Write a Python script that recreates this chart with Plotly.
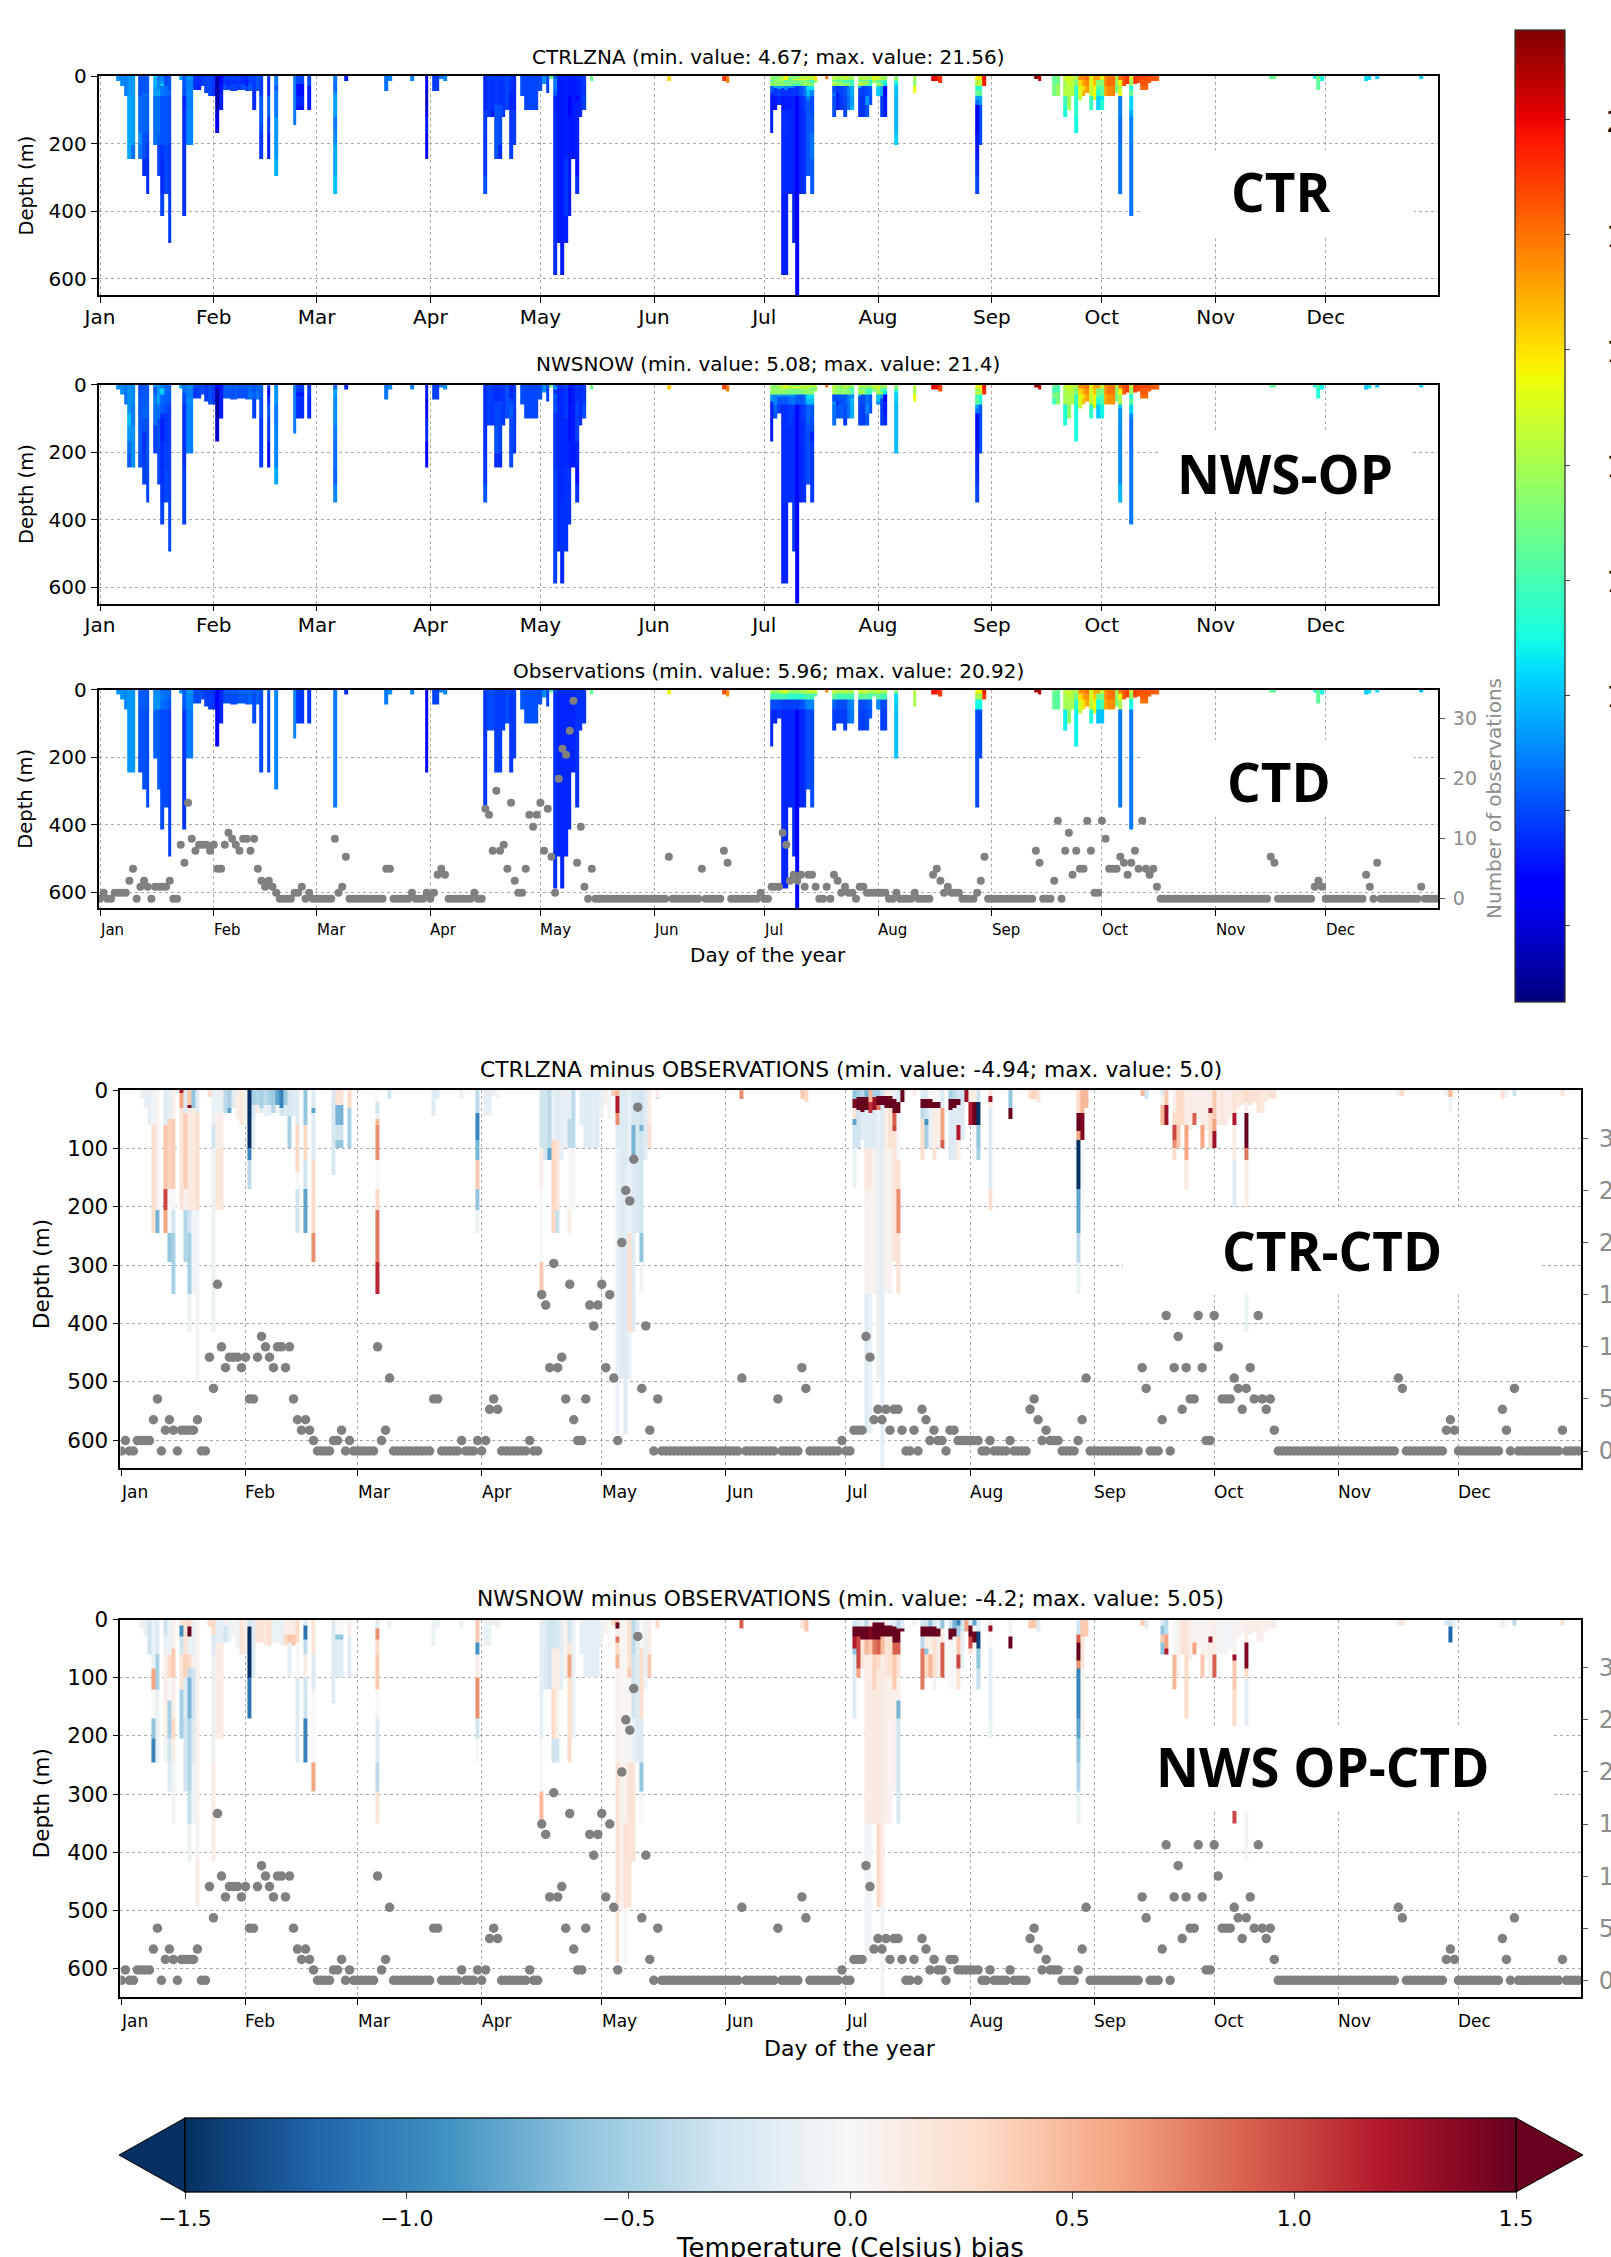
import numpy as np
import plotly.graph_objects as go

W, H = 1611, 2257
MONTHS = ["Jan", "Feb", "Mar", "Apr", "May", "Jun", "Jul", "Aug", "Sep", "Oct", "Nov", "Dec"]
MONTH_DAYS = [0, 31, 59, 90, 120, 151, 181, 212, 243, 273, 304, 334]
DEPTH_EDGES = [0, 5, 10, 12, 15, 17, 20, 25, 30, 32, 35, 37, 40, 45, 50, 60, 70, 85, 100, 120, 140, 145,
               170, 205, 245, 295, 350, 415, 495, 590, 650]

# number of observations for each day of the year
obs_count = [
    0,1,0,0,1,1,1,1,3,5, 0,2,3,2,0,2,2,2,2,3, 0,0,9,6,16,10,8,9,9,9, 8,9,5,5,9,11,10,9,8,10,
    10,8,10,5,3,2,3,2,1,0, 0,0,0,1,1,2,0,1,0,0, 0,0,0,0,10,1,2,7,0,0, 0,0,0,0,0,0,0,0,5,5,
    0,0,0,0,0,1,0,0,0,1, 0,1,4,5,4,0,0,0,0,0, 0,0,1,0,0,15,14,8,18,8, 9,5,16,3,1,1,5,14,12,14,
    16,8,15,7,1,20,25,24,28,33, 6,12,2,0,5,0,0,0,0,0, 0,0,0,0,0,0,0,0,0,0, 0,0,0,0,0,7,0,0,0,0,
    0,0,0,0,5,0,0,0,0,0, 8,6,0,0,0,0,0,0,0,0, 1,0,0,2,2,2,11,9,3,4, 3,4,2,4,4,2,0,0,2,0,
    4,3,1,2,1,1,0,2,2,1, 1,1,1,1,1,0,0,1,0,0, 0,0,1,0,0,0,0,4,5,3, 1,2,1,1,1,0,0,0,0,1,
    3,7,0,0,0,0,0,0,0,0, 0,0,0,0,0,8,6,0,0,0, 3,13,0,8,11,4,8,5,5,13, 8,1,1,13,10,5,5,5,7,6,
    4,6,8,5,13,5,4,5,2,0, 0,0,0,0,0,0,0,0,0,0, 0,0,0,0,0,0,0,0,0,0, 0,0,0,0,0,0,0,0,0,7,
    6,0,0,0,0,0,0,0,0,0, 0,2,3,2,0,0,0,0,0,0, 0,0,0,0,0,4,2,0,6,0, 0,0,0,0,0,0,0,0,0,0,
    2,0,0,0,0,
]

# observed profiles: day, deepest depth, temperature in 0-12, 12-30, 30-60 and below 60 m
col_days = [5,6,7,8,9,11,12,13,15,16,17,18,19,22,23,24,25,26,27,28,29,30,31,32,33,34,35,36,37,38,39,40,41,42,43,44,46,48,
            53,54,55,57,64,67,78,79,85,89,91,92,93,94,
            105,106,107,108,109,110,111,112,113,115,116,117,118,119,120,121,122,123,124,125,126,127,128,129,130,131,132,134,
            155,170,171,
            183,184,185,186,187,188,189,190,191,192,193,194,195,198,
            200,201,202,203,204,205,207,208,209,210,211,212,213,214,217,222,227,228,229,239,240,241,255,256,260,261,
            263,264,265,266,267,268,269,270,271,272,273,274,275,276,277,278,279,280,281,282,283,284,285,286,287,288,
            319,320,331,332,333,345,346,348,360]
col_bottom = [15,30,60,245,245,245,295,350,205,295,415,350,495,12,415,205,205,40,40,30,50,60,60,170,100,40,40,45,45,40,40,45,45,100,45,245,245,295,
              145,100,100,100,350,15,45,15,15,245,45,45,10,15,
              350,120,120,245,245,120,100,245,205,60,100,100,100,100,45,25,50,10,590,495,590,495,415,245,350,120,100,15,
              15,15,20,
              170,100,85,590,590,350,495,650,350,350,295,350,20,10,
              120,100,100,120,100,100,120,120,120,85,20,60,120,120,205,50,15,15,20,350,205,30,10,15,60,60,
              120,100,60,170,70,60,50,100,70,100,100,60,60,60,50,350,30,25,415,25,20,40,40,20,15,15,
              10,10,10,40,15,15,12,10,10]
obs_t0 = [8.8,8.8,8.6,8.9,8.9,7.9,7.9,7.8,8.6,8.6,8.2,8.2,8.0,8.9,8.0,8.9,8.9,7.6,7.6,7.6,7.4,7.4,7.2,6.8,7.0,7.8,7.8,7.8,7.8,8.0,8.0,8.0,8.0,7.8,8.0,7.8,7.8,8.6,
          8.6,7.4,7.4,7.3,8.4,7.2,8.4,8.8,9.0,6.8,7.5,7.5,9.0,9.0,
          7.4,7.7,7.7,7.5,7.5,7.5,7.7,7.4,7.5,7.8,7.7,7.7,7.7,7.7,7.7,8.7,7.6,12.5,7.4,7.2,7.2,7.2,7.2,7.2,7.3,7.3,7.3,12.5,
          15.5,18.7,17.5,
          14,13.5,14,15,15,13.5,13.5,13.5,14,14,14.5,14.5,14.5,17.8,
          14.5,14,14,14.5,14,14,14.5,14.5,14.5,14,14,14.5,14,14,13,14.5,19.8,19.5,19,15.5,15.5,19.5,20.9,20.9,12.8,12.6,
          14.5,14.8,14.2,14,17.5,17.5,18,15,17,17,14.5,17.5,18,18,14,17.8,18.5,19,14.5,19,18.6,18.6,18.6,18.4,18.4,18.2,
          12.5,12.5,11,12.5,11,10.2,10.5,10.5,10]
obs_t1 = [8.8,8.8,8.6,8.9,8.9,7.9,7.9,7.8,8.8,8.8,8.4,8.2,8.0,8.9,8.0,9.0,9.0,7.6,7.6,7.6,7.4,7.4,7.2,6.8,7.0,7.6,7.6,7.6,7.6,7.8,7.8,7.8,8.0,7.6,8.0,7.6,7.6,8.6,
          8.6,7.3,7.3,7.3,8.4,7.2,8.4,8.8,9.0,6.8,7.5,7.5,9.0,9.0,
          7.3,7.6,7.6,7.4,7.4,7.4,7.6,7.3,7.4,7.8,7.7,7.7,7.7,7.7,7.7,8.7,7.5,12.5,7.2,7.0,7.0,7.0,7.0,7.0,7.2,7.2,7.2,12.5,
          15.5,18.7,17.5,
          12,12,12,12,12,11.5,11.5,11.5,11.5,12,12,12,12.5,17.8,
          12.5,12,12,12,12,12,12.5,12.5,12.5,12,12.5,12.5,12,12,10.5,14,19.8,19.5,19,14,14,19,20.9,20.9,12.5,12.4,
          14,14.5,14,13,16,17,17.5,15,16.5,13,13,17.5,18,18,13.5,15.5,18.5,19,13.5,18.8,18.6,18.4,18.4,18.4,18.4,18.2,
          12.5,12.5,11,12.5,11,10.2,10.5,10.5,10]
obs_t2 = [8.8,8.8,8.6,8.9,8.9,7.9,7.9,7.8,8.8,8.8,8.2,8.0,7.8,8.9,7.8,8.6,8.6,7.6,7.6,7.6,7.4,7.4,7.2,6.8,7.0,7.6,7.6,7.6,7.6,7.8,7.8,7.8,8.0,7.6,8.0,7.6,7.6,8.6,
          8.6,7.3,7.3,7.3,8.4,7.2,8.4,8.8,9.0,6.8,7.5,7.5,9.0,9.0,
          7.3,7.6,7.6,7.4,7.4,7.4,7.6,7.3,7.4,7.8,7.7,7.7,7.7,7.7,7.7,8.7,7.5,12.5,7.2,7.0,7.0,7.0,7.0,7.0,7.2,7.2,7.2,12.5,
          15.5,18.7,17.5,
          7.6,7.6,7.6,7.4,7.4,7.4,7.4,7.4,7.6,8,8.6,8.6,12.5,17.8,
          8,7.6,7.6,7.6,8.4,8.6,7.6,7.6,7.8,8,12.5,9,7.6,7.6,10.2,14,19.8,19.5,19,11,11,19,20.9,20.9,12.5,12.4,
          14,14,14,11.5,15,16,17,14.5,15.5,11,12,17,17.5,17.5,13,14,18.5,19,11,18.8,18.6,18,18,18.4,18.4,18.2,
          12.5,12.5,11,12.5,11,10.2,10.5,10.5,10]
obs_t3 = [8.8,8.8,8.6,8.9,8.9,7.7,7.7,7.6,8.0,7.9,7.6,7.6,7.4,8.9,7.3,8.4,8.4,7.6,7.6,7.6,7.4,7.4,7.2,6.8,7.0,7.6,7.6,7.6,7.6,7.8,7.8,7.8,8.0,7.6,8.0,7.6,7.6,8.6,
          8.6,7.3,7.3,7.3,8.4,7.2,8.4,8.8,9.0,6.8,7.5,7.5,9.0,9.0,
          7.3,7.6,7.6,7.4,7.4,7.4,7.6,7.3,7.4,7.8,7.7,7.7,7.7,7.7,7.7,8.7,7.5,12.5,7.2,7.0,7.0,7.0,7.0,7.0,7.2,7.2,7.2,12.5,
          15.5,18.7,17.5,
          7,7,7.2,7,7,7,7,6.8,7,7.2,7.6,7.6,12.5,17.8,
          7.4,7.4,7.4,7.4,8.2,8.4,7.4,7.4,7.6,7.8,12.5,9,7.4,7.4,10,14,19.8,19.5,19,7.6,7.6,19,20.9,20.9,12.5,12.4,
          10.8,13.5,14,10.8,14.5,16,17,11.2,15,10,10,17,17.5,17.5,13,8.4,18.5,19,8.4,18.8,18.6,18,18,18.4,18.4,18.2,
          12.5,12.5,11,12.5,11,10.2,10.5,10.5,10]

# bias runs for each day: (down to this depth, bias)
ctr_bias = {
    5:[(15,-.1)],6:[(30,-.12)],7:[(60,-.15)],8:[(60,-.05),(245,.25)],9:[(60,.05),(205,.1),(245,-.7)],
    11:[(60,-.2),(170,.42),(205,1.0),(245,.6)],12:[(50,-.15),(170,.35),(245,0),(295,-.6)],
    13:[(50,.1),(170,.38),(205,0),(245,-.3),(350,-.5)],15:[(5,1.2),(30,.6),(205,.2)],
    16:[(40,-.2),(170,.38),(205,.05),(295,-.45)],17:[(25,.4),(30,1.4),(205,.15),(245,-.3),(350,-.5),(415,-.1)],
    18:[(30,-.6),(205,.15),(415,-.05)],19:[(40,-.2),(205,.25),(495,-.05)],22:[(12,.3)],
    23:[(60,-.1),(100,-.3),(245,-.1),(415,-.1)],24:[(40,-.1),(100,.1),(205,.18)],25:[(40,-.1),(100,.1),(205,.18)],
    26:[(40,-.4)],27:[(30,-.5),(40,-.8)],28:[(30,-.2)],29:[(50,.1)],30:[(60,.15)],31:[(60,.05)],
    32:[(100,-1.5),(120,-1.0),(170,-.4)],33:[(25,-.5),(50,-.25),(100,-.1)],34:[(25,-.45),(40,.1)],35:[(30,-.5),(40,-.2)],
    36:[(25,-.4),(45,-.1)],37:[(25,-.5),(45,-.15)],38:[(25,-.55),(40,-.45)],39:[(25,-.8)],40:[(30,-1.0),(45,-.3)],
    41:[(25,-.55),(45,-.2)],42:[(45,-.25),(100,-.5)],43:[(45,-.2)],44:[(60,-.2),(140,.3),(170,0),(245,-.3)],
    46:[(60,-.6),(120,.3),(170,-.3),(245,-.8)],48:[(30,-.2),(40,-.8),(120,-.2),(245,.3),(295,.7)],
    53:[(145,-.25)],54:[(25,.2),(60,-.7),(85,-.3),(100,-.6)],55:[(25,.2),(60,-.7),(85,-.3),(100,-.6)],57:[(30,.3),(100,-.5)],
    64:[(20,0),(40,-.3),(50,-.1),(60,.5),(120,.7),(170,0),(205,.3),(295,.8),(350,1.15)],
    67:[(15,-.3)],78:[(45,-.2)],79:[(15,-.2)],85:[(15,-.1)],89:[(40,-.4),(85,-1.0),(120,-.7),(170,.4),(205,-.6),(245,-.1)],
    91:[(45,-.15)],92:[(45,-.15)],94:[(15,.05)],105:[(100,-.3),(170,.1),(295,0),(350,.4)],106:[(120,-.3)],
    107:[(100,-.4),(120,-.8)],108:[(85,-.1),(245,.32)],109:[(85,-.2),(205,.2),(245,-.35)],110:[(120,-.15)],
    111:[(100,-.1)],112:[(50,-.15),(100,-.4),(205,0),(245,.1)],113:[(100,-.4),(205,-.05)],
    115:[(60,-.15)],116:[(100,-.2)],117:[(100,-.2)],118:[(100,-.15)],119:[(100,-.2)],120:[(45,-.1)],121:[(25,.1)],122:[(50,-.05)],
    123:[(10,.4)],124:[(10,.5),(40,1.2),(60,.7),(100,-.2),(590,-.1)],125:[(495,-.2)],126:[(590,-.2)],
    127:[(245,-.1),(415,.25),(495,-.1)],128:[(60,-.25),(120,-.7),(415,-.2)],129:[(245,-.25)],
    130:[(60,-.3),(70,-.7),(245,-.3),(295,-.6),(350,-.05)],131:[(120,-.2)],132:[(60,.1),(100,.25)],134:[(12,.1),(15,-.3)],
    155:[(15,.7)],170:[(15,.4)],171:[(20,.3)],
    183:[(15,-.6),(30,1.4),(50,.2),(60,-.8),(100,-.3),(170,-.1)],184:[(12,-.5),(35,1.5),(100,-.3)],185:[(12,-.4),(37,1.5),(85,-.2)],
    186:[(12,-.7),(35,1.5),(100,-.2),(170,.15),(295,.08),(350,.05),(590,-.2)],187:[(20,.5),(40,1.1),(100,-.2),(170,.15),(350,.05),(590,-.1)],
    188:[(12,-.5),(35,1.3),(100,-.2),(350,.05)],189:[(10,-.5),(25,1.5),(35,.8),(100,-.1),(495,-.1)],
    190:[(10,-.3),(25,1.5),(100,-.2),(650,-.15)],191:[(10,.1),(30,1.5),(100,.1),(350,.05)],192:[(10,.1),(30,1.5),(100,.25),(350,.05)],
    193:[(15,-.1),(40,1.5),(60,.9),(70,1.0),(120,.2),(295,.2)],194:[(20,-.2),(40,1.5),(120,0),(170,.25),(245,.7),(350,.22)],195:[(20,1.5)],
    198:[(10,.1)],200:[(15,-.2),(30,1.5),(50,-.4),(120,.25)],201:[(15,-.2),(30,1.5),(50,-.3),(60,-.9),(100,-.5)],
    202:[(15,0),(30,1.5),(100,-.1)],203:[(20,0),(30,1.5),(100,.1),(120,.2)],204:[(20,0),(30,1.5),(100,.1)],205:[(30,-.2),(85,.6),(100,.9)],
    207:[(15,-.5),(35,1.5),(120,-.2)],208:[(15,-.4),(30,1.5),(120,-.2)],209:[(15,-.3),(25,1.5),(60,-.2),(85,1.2),(120,.1)],
    210:[(20,-.3),(85,-.2)],211:[(20,1.3)],212:[(20,.1),(60,1.2)],213:[(20,.1),(60,1.5),(120,0)],214:[(20,-.3),(60,-1.5),(100,-.6),(120,-.5)],
    217:[(10,.2),(20,1.3),(30,.1),(170,-.2),(205,.25)],222:[(30,-.6),(50,1.5)],227:[(15,.3)],228:[(15,.35)],229:[(20,.2)],
    239:[(40,.3),(70,1.5),(85,.6),(170,-1.5),(245,-.8),(295,-.4),(350,-.1)],240:[(40,.5),(85,1.4),(205,0)],241:[(30,.5)],
    255:[(10,.5)],256:[(15,-.3)],260:[(10,-.2),(25,.05),(60,.5)],261:[(25,.4),(60,1.3)],
    263:[(40,.1),(60,.3),(85,1.0),(100,.7),(120,.3)],264:[(60,.3),(100,.4)],265:[(60,.3)],266:[(60,.1),(120,.6),(170,.15)],
    267:[(70,.1)],268:[(40,.1),(60,.9)],269:[(50,.1)],270:[(60,.1),(100,.6)],271:[(70,.1)],272:[(30,.1),(40,1.3),(100,.3)],
    273:[(50,.4),(70,.6),(100,1.3)],274:[(60,.1)],275:[(60,.15)],276:[(60,.1)],277:[(50,.1)],
    278:[(40,.2),(60,1.2),(120,.1),(205,-.2),(350,-.1)],279:[(30,.15)],280:[(25,.2)],
    281:[(20,.3),(40,.1),(100,1.5),(120,.8),(205,.1),(415,-.1)],282:[(25,.2)],283:[(20,.2)],284:[(40,.2)],285:[(40,.15)],286:[(20,.15)],287:[(15,.2)],288:[(15,.2)],
    319:[(10,-.1)],320:[(10,.3)],331:[(10,-.1)],332:[(12,.5),(40,-.05)],333:[(15,0)],345:[(15,.2)],346:[(12,-.1)],348:[(10,-.3)],360:[(10,.2)],
}
nws_bias = {
    5:[(15,-.1)],6:[(30,-.1)],7:[(60,-.3)],8:[(85,-.1),(120,.6),(170,0),(205,-.6),(245,-1.0)],9:[(60,-.2),(120,-.5),(245,-.1)],
    11:[(30,-.3),(60,-.1),(205,.1),(245,-.05)],12:[(60,-.1),(100,.3),(140,0),(205,-.5),(245,-.3),(295,-.2)],
    13:[(50,.1),(100,.4),(170,.1),(205,.3),(245,.1),(350,-.05)],15:[(10,.2),(30,-.9),(60,-.3),(120,.2),(205,-.5)],
    16:[(60,.2),(100,.35),(170,-.2),(295,-.3)],17:[(12,.3),(30,1.5),(60,-.1),(85,.3),(100,-.4),(170,-.7),(295,-.45),(350,-.35),(415,-.1)],
    18:[(60,-.1),(85,.05),(170,-.3),(245,-.2),(350,-.05)],19:[(60,.05),(415,.05),(495,.12)],22:[(12,.3)],
    23:[(25,.3),(60,-.2),(245,-.1),(415,.12)],24:[(40,-.15),(205,.12)],25:[(40,-.15),(205,.12)],26:[(10,.1),(40,-.3)],
    27:[(40,-.1)],28:[(30,.05)],29:[(50,-.05)],30:[(60,.2)],31:[(60,.1)],32:[(12,-.3),(100,-1.5),(170,-1.1)],33:[(100,-.2)],
    34:[(40,.2)],35:[(40,.2)],36:[(45,.15)],37:[(45,.25)],38:[(40,-.1)],39:[(40,-.1)],40:[(45,-.1)],41:[(25,.1),(45,.3)],42:[(25,.1),(40,.45),(100,-.15)],43:[(25,.1),(45,.4)],
    44:[(40,.3),(100,0),(245,-.2)],46:[(10,-.2),(35,-1.1),(60,-.4),(100,.1),(170,-.3),(245,-1.0)],48:[(60,.2),(120,-.2),(245,0),(295,.6)],
    53:[(145,-.2)],54:[(25,0),(35,-.6),(100,-.2)],55:[(25,0),(35,-.6),(100,-.2)],57:[(30,.1),(100,-.2)],
    64:[(15,-.2),(35,.7),(60,.3),(120,.4),(170,0),(245,-.2),(295,-.4),(350,.2)],67:[(15,-.1)],78:[(45,-.1)],79:[(15,-.1)],85:[(15,-.1)],
    89:[(40,.4),(60,-.9),(100,.1),(170,.7),(205,-.3),(245,0)],91:[(45,-.1)],92:[(45,-.1)],94:[(15,.1)],
    105:[(205,-.15),(295,0),(350,.5)],106:[(120,-.2)],107:[(120,-.3)],108:[(50,-.3),(120,.12),(205,.3),(245,-.3)],
    109:[(50,-.25),(205,.1),(245,-.3)],110:[(120,-.15)],111:[(100,.05)],112:[(40,-.3),(60,.2),(100,.6),(205,.25),(245,.3)],113:[(205,-.1)],
    115:[(60,-.15)],116:[(100,-.15)],117:[(100,-.15)],118:[(100,-.15)],119:[(100,-.15)],120:[(45,-.1)],121:[(25,.05)],122:[(50,0)],123:[(10,.3)],
    124:[(5,.4),(15,1.5),(30,.1),(40,.8),(60,.3),(85,.5),(245,.05),(590,.22)],125:[(245,.03),(495,.06)],126:[(245,.03),(350,.06),(495,.22),(590,.03)],
    127:[(85,.25),(100,.4),(245,.03),(495,.2)],128:[(60,-.4),(170,-.3),(245,-.1),(415,.2)],129:[(245,-.2)],
    130:[(50,0),(170,.25),(245,-.2),(295,-.6),(350,-.02)],131:[(100,-.1),(120,-.05)],132:[(60,.1),(100,.4)],134:[(15,.3)],
    155:[(15,.9)],170:[(15,.2)],171:[(20,.4)],
    183:[(12,-.3),(30,1.5),(50,1.2),(60,-.6),(170,-.2)],184:[(12,-.2),(30,1.5),(85,1.0),(100,.6)],185:[(12,-.1),(35,1.5),(85,.2)],
    186:[(12,-.4),(35,1.5),(60,.5),(295,.12),(350,.12),(590,-.05)],187:[(12,.1),(35,1.4),(60,.4),(350,.12),(590,-.05)],
    188:[(5,-.2),(35,1.5),(60,.8),(120,.35),(350,.15)],189:[(5,-.2),(35,1.5),(60,.9),(85,.3),(350,.15),(495,.28)],
    190:[(5,-.2),(30,1.5),(60,.5),(495,.12),(650,-.05)],191:[(10,.1),(30,1.5),(100,.2),(350,.06)],192:[(10,-.1),(30,1.5),(100,.25),(170,.08),(350,.05)],
    193:[(12,-.2),(40,1.5),(60,.9),(120,.4),(295,.08)],194:[(15,-.4),(40,1.5),(60,.9),(100,.2),(140,.05),(170,-.7),(295,-.3),(350,-.25)],195:[(15,-.2),(20,1.5)],
    198:[(10,.1)],200:[(12,-.3),(30,1.5),(50,-.4),(120,.8)],201:[(12,-.3),(30,1.5),(50,.1),(60,-.6),(120,.3)],
    202:[(12,-.6),(30,1.5),(60,.1),(120,.5)],203:[(12,-.2),(30,1.5),(100,.25)],204:[(15,-.1),(30,1.5),(100,.1)],205:[(15,-.6),(40,.1),(100,.9)],
    207:[(15,-.3),(35,1.5),(120,0)],208:[(15,-.7),(30,1.5),(120,0)],209:[(10,-1.0),(30,-.5),(60,.4),(85,1.0),(120,.2)],
    210:[(20,-.3),(85,-.1)],211:[(20,.6)],212:[(10,-.2),(30,1.5),(50,1.0),(60,.2)],213:[(10,-.8),(20,0),(40,1.5),(120,0)],
    214:[(20,-.2),(50,-1.4),(85,-.6),(120,-.35)],217:[(10,.1),(20,1.3),(50,0),(170,-.15),(205,-.1)],222:[(30,-.05),(50,1.5)],
    227:[(15,.4)],228:[(15,.4)],229:[(20,-.2)],239:[(25,-.3),(40,.9),(70,1.5),(85,.7),(170,-1.0),(205,-.8),(245,-.6),(295,-.45),(350,-.1)],
    240:[(30,.4),(85,.2),(205,.05)],241:[(30,.4)],255:[(10,.4)],256:[(15,-.2)],260:[(10,-.2),(25,-.6),(40,.4),(60,-.6)],261:[(25,-.4),(50,.6),(60,1.2)],
    263:[(60,0),(120,.5)],264:[(100,.05)],265:[(60,.2)],266:[(60,.2),(170,.3)],267:[(70,.1)],268:[(40,.05),(60,.6)],269:[(50,.05)],
    270:[(60,.05),(100,.4)],271:[(70,.05)],272:[(30,.05),(40,1.3),(100,.1)],273:[(60,.1),(100,.9)],274:[(60,-.05)],275:[(60,-.05)],276:[(60,-.05)],277:[(50,-.05)],
    278:[(60,.05),(70,1.3),(120,.4),(295,.3),(350,1.0)],279:[(30,.05)],280:[(25,.05)],281:[(40,.1),(85,1.4),(100,.3),(205,-.15),(415,-.05)],
    282:[(25,.1)],283:[(20,.1)],284:[(40,.1)],285:[(40,.05)],286:[(20,.1)],287:[(15,.1)],288:[(15,.1)],
    319:[(10,-.1)],320:[(10,.2)],331:[(10,-.3)],332:[(12,-.3),(40,-1.2)],333:[(15,-.1)],345:[(15,-.1)],346:[(12,0)],348:[(10,-.4)],360:[(10,.2)],
}

# titles and labels
panel_titles = ["CTRLZNA (min. value: 4.67; max. value: 21.56)", "NWSNOW (min. value: 5.08; max. value: 21.4)",
                "Observations (min. value: 5.96; max. value: 20.92)",
                "CTRLZNA minus OBSERVATIONS (min. value: -4.94; max. value: 5.0)",
                "NWSNOW minus OBSERVATIONS (min. value: -4.2; max. value: 5.05)"]
big_labels = ["CTR", "NWS-OP", "CTD", "CTR-CTD", "NWS OP-CTD"]
temp_ticks = [6, 8, 10, 12, 14, 16, 18, 20]
temp_labels = [10, 12, 14, 16, 18, 20]
bias_ticks = [-1.5, -1.0, -0.5, 0.0, 0.5, 1.0, 1.5]

JET = [[0, "rgb(0,0,127)"], [.11, "rgb(0,0,255)"], [.125, "rgb(0,0,255)"], [.34, "rgb(0,219,255)"], [.35, "rgb(0,229,247)"],
       [.375, "rgb(21,255,226)"], [.64, "rgb(238,255,8)"], [.65, "rgb(247,246,0)"], [.66, "rgb(255,236,0)"], [.89, "rgb(255,19,0)"],
       [.91, "rgb(232,0,0)"], [1, "rgb(127,0,0)"]]
RDBU = ["#053061", "#2166ac", "#4393c3", "#92c5de", "#d1e5f0", "#f7f7f7", "#fddbc7", "#f4a582", "#d6604d", "#b2182b", "#67001f"]
RDBU_SCALE = [[i / 10, c] for i, c in enumerate(RDBU)]


def px(x):
    return x / W


def py(y):
    return 1 - y / H


edges = np.array(DEPTH_EDGES, float)
nlev = len(edges) - 1


def run_value(runs, lower):
    for until, v in runs:
        if lower < until:
            return v
    return -0.05


def obs_grid():
    z = np.full((nlev, 365), np.nan)
    for d, b, a0, a1, a2, a3 in zip(col_days, col_bottom, obs_t0, obs_t1, obs_t2, obs_t3, strict=True):
        for k in range(nlev):
            if edges[k] >= b:
                break
            low = edges[k]
            v = a0 if low < 12 else a1 if low < 30 else a2 if low < 60 else a3
            z[k, d] = v + 0.4 if 6.9 < v < 9 else v   # colour reading correction for the blue range
    return z


def bias_grid(table):
    z = np.full((nlev, 365), np.nan)
    for d, b in zip(col_days, col_bottom, strict=True):
        for k in range(nlev):
            if edges[k] >= b:
                break
            z[k, d] = run_value(table.get(d, [(b, -.1)]), edges[k])
    return z


OBS = obs_grid()
BC = bias_grid(ctr_bias)
BN = bias_grid(nws_bias)
x_edges = np.arange(-0.5, 365)

# pixel frames: left, right, top, bottom, x px of Jan, px/day, px of 600 m
FR = [(98.5, 1438, 76, 295, 100, 3.67, 278.7),
      (98.5, 1438, 384.5, 603.5, 100, 3.67, 587.2),
      (98.5, 1438, 689.5, 908, 100, 3.67, 892),
      (120.4, 1581, 1090, 1468, 121.4, 4.003, 1440),
      (120.4, 1581, 1619.5, 1997, 121.4, 4.003, 1968.7)]
OBS_AX = {2: (898.7, 6.0), 3: (1451, 10.42), 4: (1980.3, 10.42)}
GRID = dict(showgrid=True, gridcolor="#a8a8a8", griddash="dot", gridwidth=1.3)
AX = dict(showline=True, linecolor="black", linewidth=1.6, mirror=True, ticks="outside", tickcolor="black", zeroline=False)

fig = go.Figure()
layout = {}
grids = [OBS + BC, OBS + BN, OBS, BC, BN]
annots, shapes = [], []
white_boxes = [(1143, 1414, 150, 237), (1160, 1410, 430, 512), (1143, 1414, 740, 817), (1123, 1542, 1207, 1295), (1095, 1554, 1726, 1811)]
label_pos = [(1280, 192), (1285, 473), (1279, 781), (1332, 1250), (1323, 1766)]
title_y = [57, 364, 671, 1070, 1598]

for i, (L, R, T, B, x0, sx, y600) in enumerate(FR):
    n = i + 1
    xa, ya = ("x", "y") if i == 0 else (f"x{n}", f"y{n}")
    xk, yk = f"xaxis{'' if i == 0 else n}", f"yaxis{'' if i == 0 else n}"
    upper = i < 3
    rng_x = [(L - x0) / sx, (R - x0) / sx]
    sy = (y600 - T) / 600
    fig.add_trace(go.Heatmap(x=x_edges, y=edges, z=grids[i], coloraxis="coloraxis" if upper else "coloraxis2",
                             xaxis=xa, yaxis=ya, hoverinfo="skip"))
    tick_sz = 20 if i < 2 else 15 if i == 2 else 17
    y_sz = 20 if upper else 21.5
    layout[xk] = dict(domain=[px(L), px(R)], anchor=ya, range=rng_x, tickvals=MONTH_DAYS, ticktext=MONTHS,
                      showticklabels=i < 2, tickfont=dict(size=tick_sz), ticklen=6, ticklabelstandoff=-3, **GRID, **AX)
    layout[yk] = dict(domain=[py(B), py(T)], anchor=xa, range=[(B - T) / sy, 0],
                      tickvals=[0, 200, 400, 600] if upper else [0, 100, 200, 300, 400, 500, 600],
                      tickfont=dict(size=y_sz), ticklen=6, **GRID, **AX)
    if i >= 2:
        o0, so = OBS_AX[i]
        n2 = n + 5
        layout[f"yaxis{n2}"] = dict(domain=[py(B), py(T)], anchor=xa, overlaying=ya, side="right",
                                    range=[(o0 - B) / so, (o0 - T) / so], showgrid=False, zeroline=False,
                                    tickvals=[0, 10, 20, 30] if i == 2 else [0, 5, 10, 15, 20, 25, 30],
                                    tickfont=dict(size=19 if i == 2 else 24, color="#8c8c8c"),
                                    ticks="outside", ticklen=6, tickcolor="#555555", ticklabelstandoff=4 if i == 2 else 6)
        fig.add_trace(go.Scatter(x=list(range(365)), y=obs_count, mode="markers", xaxis=xa, yaxis=f"y{n2}",
                                 marker=dict(color="#808080", size=8 if i == 2 else 9.5), hoverinfo="skip", showlegend=False))
        for m, d in zip(MONTHS, MONTH_DAYS):
            annots.append(dict(x=d, xref=xa, y=py(B + (22 if i == 2 else 24)), yref="paper", text=m, showarrow=False,
                               xanchor="left", yanchor="middle", xshift=-2, font=dict(size=tick_sz, color="black")))
    # panel title
    annots.append(dict(x=px((L + R) / 2), y=py(title_y[i]), xref="paper", yref="paper", text=panel_titles[i], showarrow=False,
                       font=dict(size=20 if upper else 21.8, color="black")))
    # axis title
    annots.append(dict(x=px(26 if upper else 41), y=py((T + B) / 2 if upper else (T + B) / 2 - 5), xref="paper", yref="paper", text="Depth (m)", textangle=-90,
                       showarrow=False, font=dict(size=19.5 if upper else 21.5, color="black")))
    # white box and big label over the panel
    a, b, c, d = white_boxes[i]
    shapes.append(dict(type="rect", xref="paper", yref="paper", x0=px(a), x1=px(b), y0=py(d), y1=py(c),
                       fillcolor="white", line_width=0, layer="above"))
    annots.append(dict(x=px(label_pos[i][0]), y=py(label_pos[i][1]), xref="paper", yref="paper", text=f"<b>{big_labels[i]}</b>",
                       showarrow=False, font=dict(family="Open Sans", size=53, color="black")))

annots += [
    dict(x=px(768), y=py(955), xref="paper", yref="paper", text="Day of the year", showarrow=False, font=dict(size=20, color="black")),
    dict(x=px(850), y=py(2048), xref="paper", yref="paper", text="Day of the year", showarrow=False, font=dict(size=22, color="black")),
    dict(x=px(1494), y=py(799), xref="paper", yref="paper", text="Number of observations", textangle=-90, showarrow=False,
         font=dict(size=20, color="#8c8c8c")),
    dict(x=px(850), y=py(2248), xref="paper", yref="paper", text="Temperature (Celsius) bias", showarrow=False, font=dict(size=26, color="black")),
]
# temperature colorbar labels run off the edge of the page
for v in temp_labels:
    annots.append(dict(x=px(1604), y=py(121 + (20 - v) * 57.5), xref="paper", yref="paper", text=str(v), showarrow=False,
                       xanchor="left", font=dict(size=31, color="black")))
for a_ in annots:
    a_.setdefault("xanchor", "center")
    a_.setdefault("yanchor", "middle")

# colorbar end arrows
shapes.append(dict(type="path", xref="paper", yref="paper", fillcolor=RDBU[0], line=dict(color="black", width=1),
                   path=f"M {px(185)} {py(2118)} L {px(119)} {py(2155)} L {px(185)} {py(2192)} Z"))
shapes.append(dict(type="path", xref="paper", yref="paper", fillcolor=RDBU[-1], line=dict(color="black", width=1),
                   path=f"M {px(1516)} {py(2118)} L {px(1583)} {py(2155)} L {px(1516)} {py(2192)} Z"))

layout.update(
    width=W, height=H, autosize=False, paper_bgcolor="white", plot_bgcolor="white", showlegend=False,
    margin=dict(l=0, r=0, t=0, b=0, pad=0, autoexpand=False),
    font=dict(family="DejaVu Sans", color="black"),
    annotations=annots, shapes=shapes,
    coloraxis=dict(cmin=4.67, cmax=21.56, colorscale=JET,
                   colorbar=dict(x=px(1514.5), xanchor="left", y=py(1002), yanchor="bottom", lenmode="pixels", len=972,
                                 thicknessmode="pixels", thickness=49.5, tickvals=temp_ticks, showticklabels=False,
                                 ticks="outside", ticklen=5, outlinecolor="#333333", outlinewidth=1.3, xpad=0, ypad=0)),
    coloraxis2=dict(cmin=-1.5, cmax=1.5, colorscale=RDBU_SCALE,
                    colorbar=dict(orientation="h", x=px(185), xanchor="left", y=py(2118), yanchor="top", lenmode="pixels", len=1331,
                                  thicknessmode="pixels", thickness=74, tickvals=bias_ticks, tickformat=".1f",
                                  ticks="outside", ticklen=7, tickfont=dict(size=22, color="black"),
                                  outlinecolor="black", outlinewidth=1.3, xpad=0, ypad=0)),
)
fig.update_layout(**layout)
fig.write_html("out.html", config={"displayModeBar": False},
               post_script="document.body.style.margin='0';document.body.style.overflow='hidden';")
